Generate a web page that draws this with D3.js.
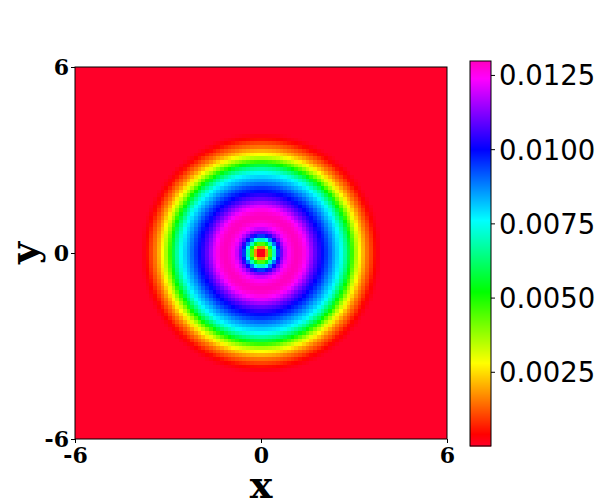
<!DOCTYPE html>
<meta charset="utf-8">
<style>
body { margin: 0; background: #fff; }
.tick-lbl { font-family: "DejaVu Serif", serif; font-weight: bold; font-size: 22px; fill: #000; }
.ax-lbl { font-family: "DejaVu Serif", serif; font-weight: bold; font-size: 38px; fill: #000; }
.cb text { font-family: "DejaVu Sans", sans-serif; font-size: 27.5px; fill: #000; }
</style>
<body>
<script src="https://cdn.jsdelivr.net/npm/d3@7"></script>
<script>

// radial density profile (radius -> value)
var radius  = [0.00, 0.09, 0.19, 0.31, 0.43, 0.55, 0.67, 0.79, 0.91, 1.03, 1.15, 1.27, 1.40,
               1.52, 1.64, 1.76, 1.88, 2.00, 2.12, 2.24, 2.36, 2.49, 2.61, 2.73, 2.85, 2.97,
               3.09, 3.21, 3.33, 3.45, 3.58, 3.70, 3.82, 3.94, 4.06, 9.00];
var density = [0.0000, 0.0002, 0.0016, 0.0045, 0.0070, 0.0095, 0.0110, 0.0119, 0.0125, 0.0128,
               0.0130, 0.0129, 0.0126, 0.0121, 0.0115, 0.0109, 0.0104, 0.0099, 0.0095, 0.0090,
               0.0085, 0.0080, 0.0075, 0.0067, 0.0058, 0.0047, 0.0036, 0.0028, 0.0021, 0.0015,
               0.0010, 0.0005, 0.0002, 0.0000, 0.0000, 0.0000];

var nGrid = 100;
var xTicks = [-6, 0, 6];
var yTicks = [-6, 0, 6];
var cbTicks = [0.0025, 0.0050, 0.0075, 0.0100, 0.0125];
var vmin = 0, vmax = 0.01297;

// gist_rainbow stops
var cmapPos = [0.000, 0.030, 0.215, 0.400, 0.586, 0.770, 0.954, 1.000];
var cmapCol = ["#ff0029", "#ff0000", "#ffff00", "#00ff00", "#00ffff", "#0000ff", "#ff00ff", "#ff00bf"];

var W = 600, H = 500;
var plot = {left: 75, top: 67, size: 372};

var svg = d3.select("body").append("svg")
    .attr("width", W)
    .attr("height", H);

var x = d3.scaleLinear().domain([-6, 6]).range([plot.left, plot.left + plot.size]);
var y = d3.scaleLinear().domain([-6, 6]).range([plot.top + plot.size, plot.top]);

var profile = d3.scaleLinear().domain(radius).range(density).clamp(true);

var color = d3.scaleLinear()
    .domain(cmapPos.map(function(p) { return vmin + p * (vmax - vmin); }))
    .range(cmapCol)
    .interpolate(d3.interpolateRgb)
    .clamp(true);

// grid cells (sample points linspace(-6,6,n), drawn as imshow blocks)
var cells = [];
for (var i = 0; i < nGrid; i++) {
  for (var j = 0; j < nGrid; j++) {
    var xs = -6 + 12 * i / (nGrid - 1);
    var ys = -6 + 12 * j / (nGrid - 1);
    cells.push({i: i, j: j, v: profile(Math.sqrt(xs * xs + ys * ys))});
  }
}
var step = 12 / nGrid;
function px(i) { return Math.round(x(-6 + i * step)); }
function py(j) { return Math.round(y(-6 + j * step)); }
svg.append("g")
    .attr("shape-rendering", "crispEdges")
  .selectAll("rect")
    .data(cells)
  .enter().append("rect")
    .attr("x", function(d) { return px(d.i); })
    .attr("y", function(d) { return py(d.j + 1); })
    .attr("width", function(d) { return px(d.i + 1) - px(d.i); })
    .attr("height", function(d) { return py(d.j) - py(d.j + 1); })
    .attr("fill", function(d) { return color(d.v); });

// frame
svg.append("rect")
    .attr("x", plot.left).attr("y", plot.top)
    .attr("width", plot.size).attr("height", plot.size)
    .attr("fill", "none").attr("stroke", "#000").attr("stroke-width", 1);

var fmt = function(d) { return String(d); };

// x axis
var xAxis = svg.append("g")
    .attr("transform", "translate(0," + (plot.top + plot.size) + ")")
    .call(d3.axisBottom(x).tickValues(xTicks).tickSize(4).tickFormat(fmt));
xAxis.select(".domain").remove();
xAxis.attr("font-size", null).attr("font-family", null);
xAxis.selectAll("text").attr("class", "tick-lbl").attr("dy", "0.95em").attr("y", 3);

// y axis
var yAxis = svg.append("g")
    .attr("transform", "translate(" + plot.left + ",0)")
    .call(d3.axisLeft(y).tickValues(yTicks).tickSize(4).tickFormat(fmt));
yAxis.select(".domain").remove();
yAxis.attr("font-size", null).attr("font-family", null);
yAxis.selectAll("text").attr("class", "tick-lbl").attr("x", -6).attr("dy", "0.36em");

svg.append("text").attr("class", "ax-lbl")
    .attr("x", x(0)).attr("y", 498)
    .attr("text-anchor", "middle")
    .text("x");

svg.append("text").attr("class", "ax-lbl")
    .attr("transform", "translate(37," + y(0) + ") rotate(-90)")
    .attr("text-anchor", "middle")
    .text("y");

// colorbar
var cb = {left: 470, top: 61, width: 21, bottom: 446};
var cbScale = d3.scaleLinear().domain([vmin, vmax]).range([cb.bottom, cb.top]);
var cbG = svg.append("g").attr("class", "cb");
var cbSteps = d3.range(cb.top, cb.bottom, 1);
cbG.selectAll("rect.strip")
    .data(cbSteps)
  .enter().append("rect")
    .attr("class", "strip")
    .attr("x", cb.left)
    .attr("y", function(d) { return d; })
    .attr("width", cb.width)
    .attr("height", 1.5)
    .attr("fill", function(d) { return color(cbScale.invert(d + 0.5)); });
cbG.append("rect")
    .attr("x", cb.left).attr("y", cb.top)
    .attr("width", cb.width).attr("height", cb.bottom - cb.top)
    .attr("fill", "none").attr("stroke", "#000").attr("stroke-width", 1);
var cbAxis = cbG.append("g")
    .attr("transform", "translate(" + (cb.left + cb.width) + ",0)")
    .call(d3.axisRight(cbScale).tickValues(cbTicks).tickSize(4).tickFormat(d3.format(".4f")));
cbAxis.select(".domain").remove();
cbAxis.attr("font-size", null).attr("font-family", null);
cbAxis.selectAll("text").attr("x", 8).attr("dy", "0.36em");

</script>
</body>
